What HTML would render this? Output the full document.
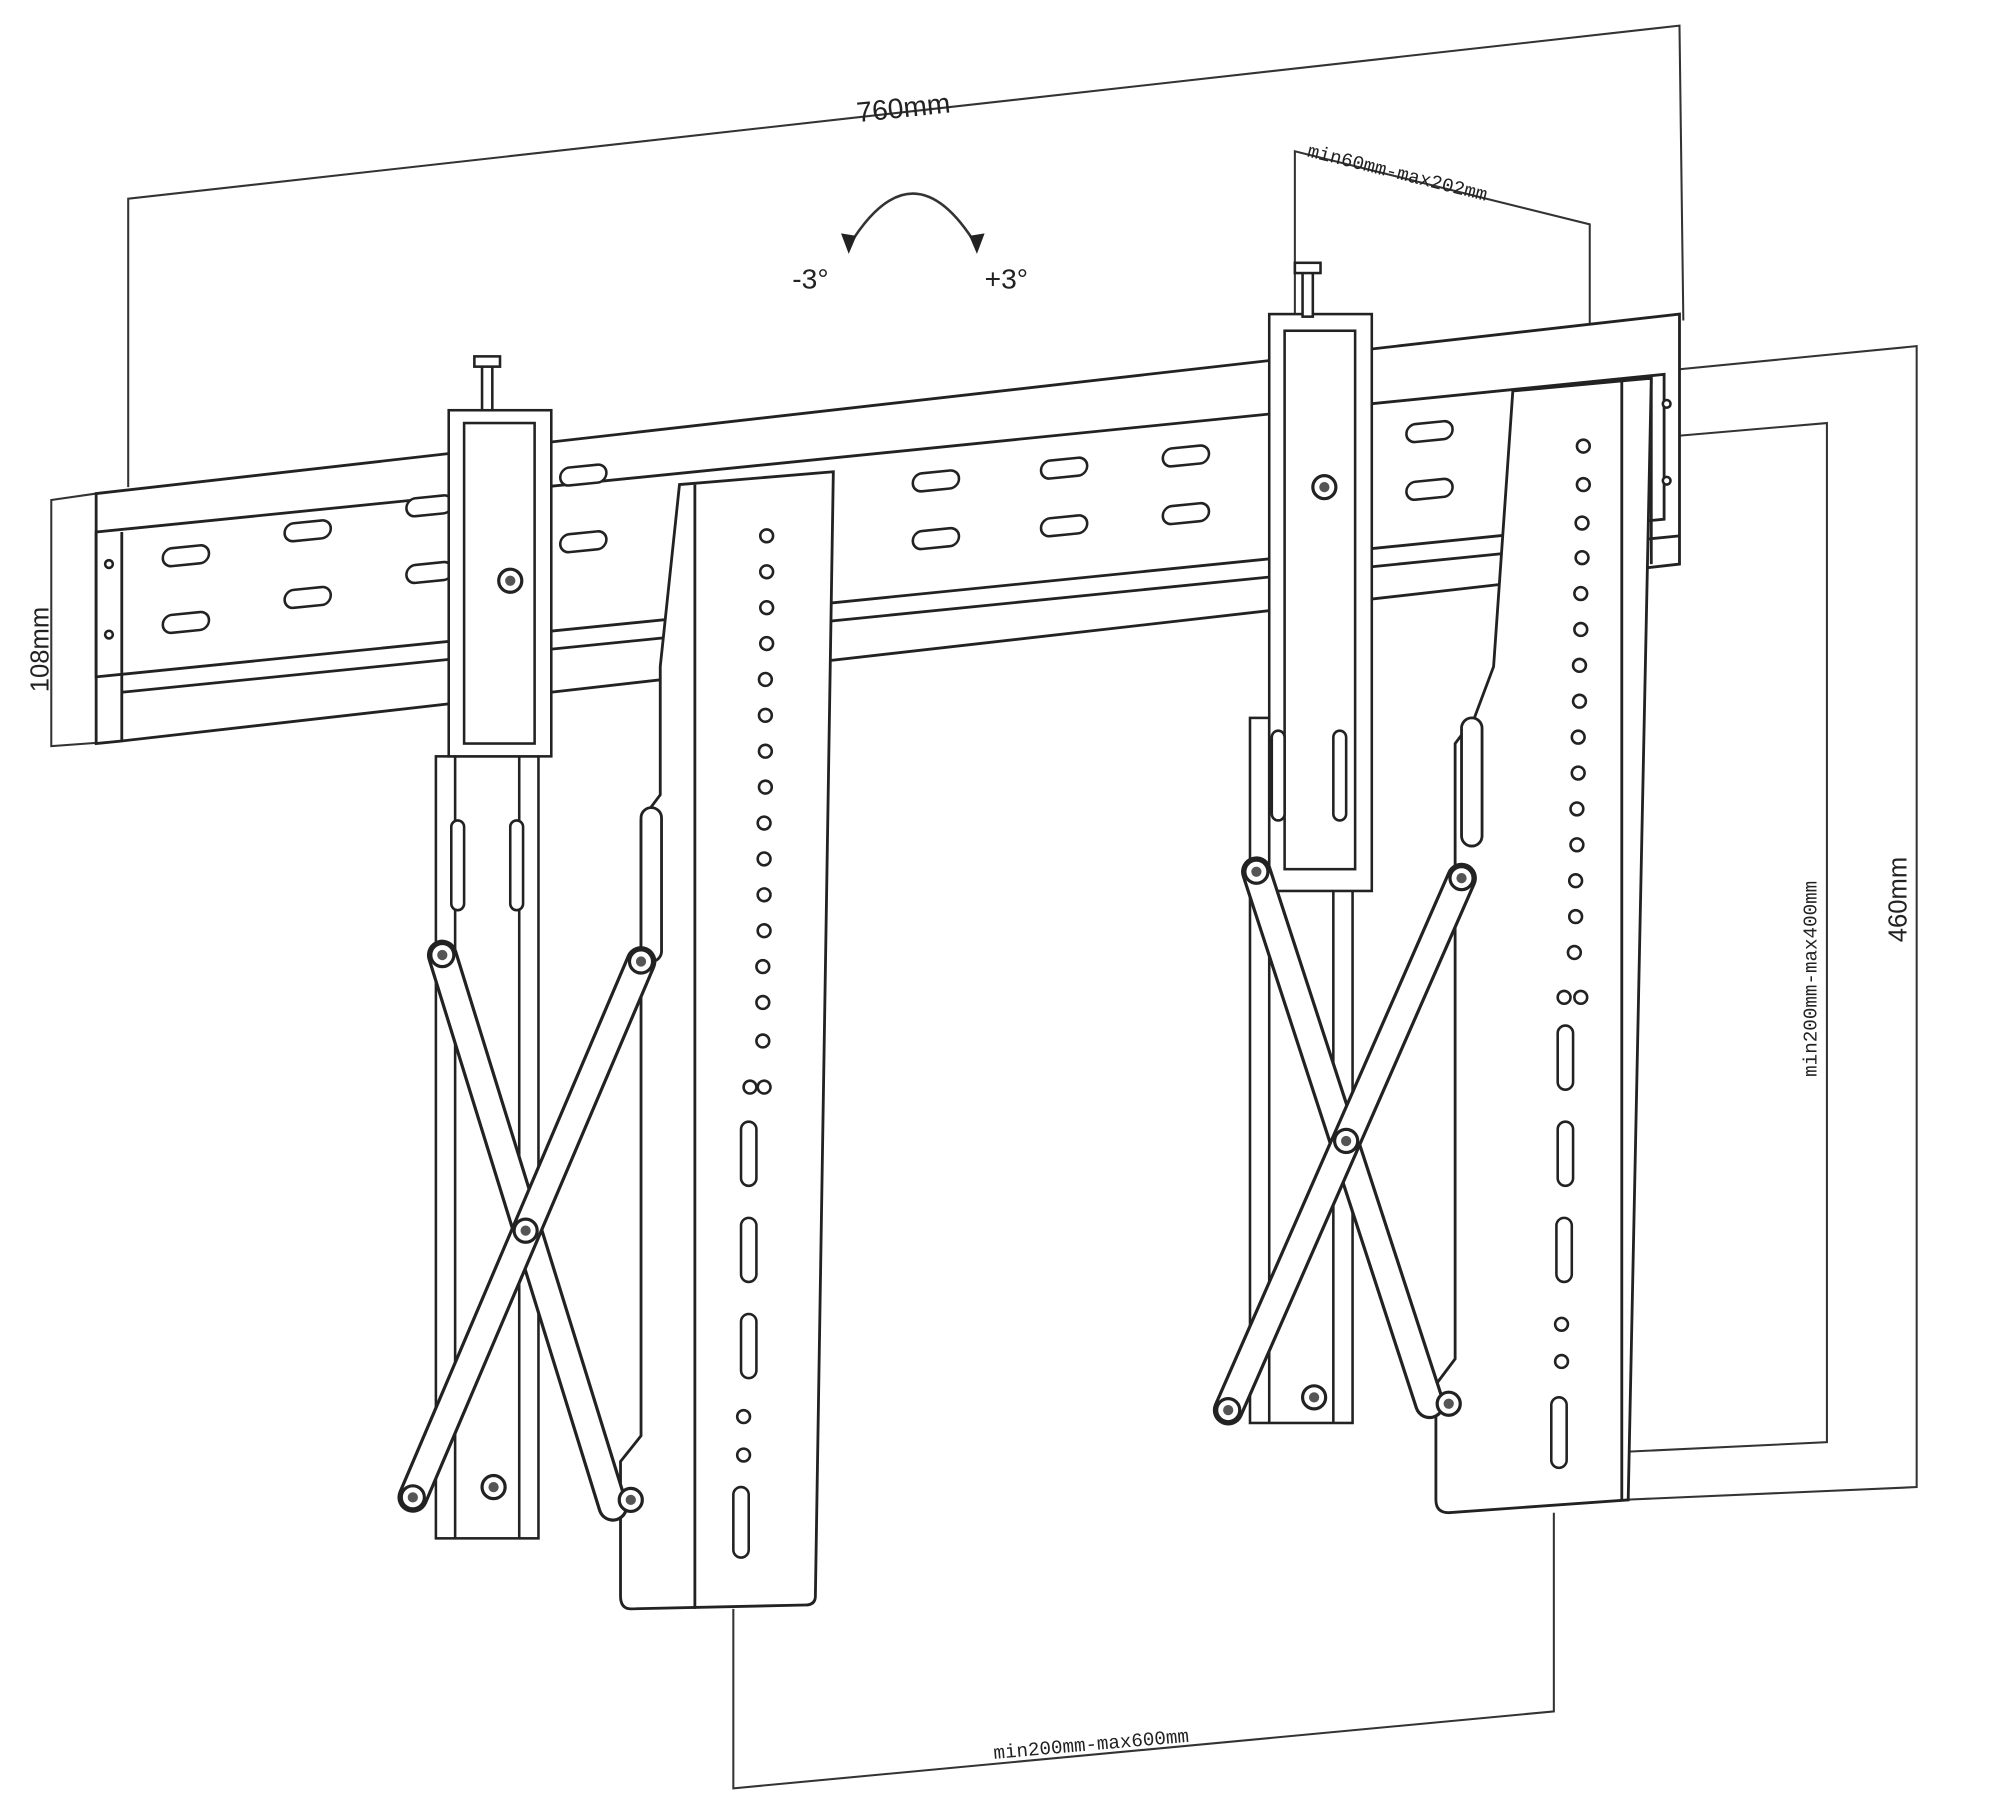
<!DOCTYPE html>
<html><head><meta charset="utf-8"><style>
html,body{margin:0;padding:0;background:#fff;}
svg{display:block;}
text{font-family:"Liberation Sans",sans-serif;fill:#222;}
.m{font-family:"Liberation Mono",monospace;}
</style></head><body>
<svg width="2000" height="1805" viewBox="0 0 1560 1408" preserveAspectRatio="none" xmlns="http://www.w3.org/2000/svg">
<defs>
<g id="slot"><rect x="-18" y="-7" width="36" height="14" rx="7" fill="#fff" stroke="#222" stroke-width="2"/></g>
<g id="hole"><circle r="5" fill="#fff" stroke="#222" stroke-width="2"/></g>
<g id="bolt"><circle r="9" fill="#fff" stroke="#222" stroke-width="2.5"/><circle r="4" fill="#555"/></g>
</defs>
<g fill="none" stroke="#333" stroke-width="1.6">
<!-- 760mm dimension -->
<polyline points="100,380 100,155 1310,20 1313,250"/>
<!-- min60-max202 -->
<polyline points="1010,250 1010,118 1240,175 1240,295"/>
<!-- 108mm -->
<polyline points="75,385 40,390 40,582 95,578"/>
<!-- 460mm -->
<polyline points="1290,290 1495,270 1495,1160 1265,1170"/>
<!-- min200-max400 -->
<polyline points="1250,345 1425,330 1425,1125 1215,1135"/>
<!-- min200-max600 -->
<polyline points="572,1255 572,1395 1212,1335 1212,1180"/>
<!-- tilt arc -->
<path d="M662,192 Q712,110 762,192" stroke-width="2"/>
</g>
<polygon points="656,182 662,198 668,184" fill="#222"/>
<polygon points="756,184 762,198 768,182" fill="#222"/>
<text x="618" y="225" font-size="22">-3°</text>
<text x="768" y="225" font-size="22">+3°</text>
<text x="668" y="92" font-size="22" transform="rotate(-6 700 85)">760mm</text>
<text class="m" x="1020" y="122" font-size="15" transform="rotate(14 1020 118)">min60mm-max202mm</text>
<text x="0" y="0" font-size="20" transform="translate(38,540) rotate(-90)">108mm</text>
<text x="0" y="0" font-size="20" transform="translate(1487,735) rotate(-90)">460mm</text>
<text class="m" x="0" y="0" font-size="15" transform="translate(1417,840) rotate(-90)">min200mm-max400mm</text>
<text class="m" x="775" y="1372" font-size="15" transform="rotate(-5 775 1368)">min200mm-max600mm</text>

<!-- Rail -->
<g stroke="#222" stroke-width="2.2" fill="#fff">
<polygon points="75,385 1310,245 1310,440 95,578 75,580"/>
<polygon points="75,415 1298,292 1298,405 75,528"/>
<line x1="95" y1="540" x2="1310" y2="418"/>
<line x1="95" y1="415" x2="95" y2="578"/>
<line x1="1288" y1="295" x2="1288" y2="440"/>
</g>
<g transform="skewY(-5.7)">
<g transform="translate(0,0)">
<use href="#slot" x="145" y="448"/><use href="#slot" x="240" y="438"/><use href="#slot" x="335" y="428"/><use href="#slot" x="455" y="416"/>
<use href="#slot" x="145" y="500"/><use href="#slot" x="240" y="490"/><use href="#slot" x="335" y="480"/><use href="#slot" x="455" y="468"/>
<use href="#slot" x="730" y="448"/><use href="#slot" x="830" y="448"/><use href="#slot" x="925" y="448"/><use href="#slot" x="1115" y="448"/>
<use href="#slot" x="730" y="493"/><use href="#slot" x="830" y="493"/><use href="#slot" x="925" y="493"/><use href="#slot" x="1115" y="493"/>
</g>
</g>
<g fill="#fff" stroke="#222" stroke-width="2">
<circle cx="85" cy="440" r="3"/><circle cx="85" cy="495" r="3"/><circle cx="1300" cy="315" r="3"/><circle cx="1300" cy="375" r="3"/>
</g>

<!-- Left slider bracket -->
<g stroke="#222" stroke-width="2" fill="#fff">
<rect x="340" y="590" width="80" height="610"/>
<line x1="355" y1="590" x2="355" y2="1200"/><line x1="405" y1="590" x2="405" y2="1200"/>
<rect x="350" y="320" width="80" height="270"/>
<rect x="362" y="330" width="55" height="250"/>
<rect x="376" y="285" width="8" height="35"/><rect x="370" y="278" width="20" height="8"/>
<rect x="352" y="640" width="10" height="70" rx="5"/><rect x="398" y="640" width="10" height="70" rx="5"/>
</g>
<!-- Right slider bracket -->
<g stroke="#222" stroke-width="2" fill="#fff">
<rect x="975" y="560" width="80" height="550"/>
<line x1="990" y1="560" x2="990" y2="1110"/><line x1="1040" y1="560" x2="1040" y2="1110"/>
<rect x="990" y="245" width="80" height="450"/>
<rect x="1002" y="258" width="55" height="420"/>
<rect x="1016" y="212" width="8" height="35"/><rect x="1010" y="205" width="20" height="8"/>
<rect x="992" y="570" width="10" height="70" rx="5"/><rect x="1040" y="570" width="10" height="70" rx="5"/>
</g>

<!-- Left plate -->
<g stroke="#222" stroke-width="2.2" fill="#fff">
<path d="M530,378 L650,368 L636,1245 Q636,1252 628,1252 L492,1255 Q484,1255 484,1245 L484,1140 L500,1120 L500,640 L515,620 L515,520 Z"/>
<line x1="542" y1="378" x2="542" y2="1255"/>
<rect x="500" y="630" width="16" height="120" rx="8"/>
</g>
<!-- Right plate -->
<g stroke="#222" stroke-width="2.2" fill="#fff">
<path d="M1180,305 L1288,295 L1270,1170 L1130,1180 Q1120,1180 1120,1170 L1120,1080 L1135,1060 L1135,580 L1150,560 L1165,520 Z"/>
<line x1="1265" y1="298" x2="1265" y2="1170"/>
<rect x="1140" y="560" width="16" height="100" rx="8"/>
</g>
<!-- holes left plate -->
<g>
<use href="#hole" x="598" y="418"/><use href="#hole" x="598" y="446"/><use href="#hole" x="598" y="474"/><use href="#hole" x="598" y="502"/>
<use href="#hole" x="597" y="530"/><use href="#hole" x="597" y="558"/><use href="#hole" x="597" y="586"/><use href="#hole" x="597" y="614"/>
<use href="#hole" x="596" y="642"/><use href="#hole" x="596" y="670"/><use href="#hole" x="596" y="698"/><use href="#hole" x="596" y="726"/>
<use href="#hole" x="595" y="754"/><use href="#hole" x="595" y="782"/><use href="#hole" x="595" y="812"/><use href="#hole" x="585" y="848"/><use href="#hole" x="596" y="848"/>
<use href="#hole" x="580" y="1105"/><use href="#hole" x="580" y="1135"/>
</g>
<g fill="#fff" stroke="#222" stroke-width="2">
<rect x="578" y="875" width="12" height="50" rx="6"/><rect x="578" y="950" width="12" height="50" rx="6"/><rect x="578" y="1025" width="12" height="50" rx="6"/><rect x="572" y="1160" width="12" height="55" rx="6"/>
</g>
<!-- holes right plate -->
<g>
<use href="#hole" x="1235" y="348"/><use href="#hole" x="1235" y="378"/><use href="#hole" x="1234" y="408"/><use href="#hole" x="1234" y="435"/>
<use href="#hole" x="1233" y="463"/><use href="#hole" x="1233" y="491"/><use href="#hole" x="1232" y="519"/><use href="#hole" x="1232" y="547"/>
<use href="#hole" x="1231" y="575"/><use href="#hole" x="1231" y="603"/><use href="#hole" x="1230" y="631"/><use href="#hole" x="1230" y="659"/>
<use href="#hole" x="1229" y="687"/><use href="#hole" x="1229" y="715"/><use href="#hole" x="1228" y="743"/><use href="#hole" x="1220" y="778"/><use href="#hole" x="1233" y="778"/>
<use href="#hole" x="1218" y="1033"/><use href="#hole" x="1218" y="1062"/>
</g>
<g fill="#fff" stroke="#222" stroke-width="2">
<rect x="1215" y="800" width="12" height="50" rx="6"/><rect x="1215" y="875" width="12" height="50" rx="6"/><rect x="1214" y="950" width="12" height="50" rx="6"/><rect x="1210" y="1090" width="12" height="55" rx="6"/>
</g>

<!-- Left scissors -->
<g stroke-linecap="round">
<line x1="345" y1="745" x2="478" y2="1175" stroke="#222" stroke-width="24"/>
<line x1="345" y1="745" x2="478" y2="1175" stroke="#fff" stroke-width="19"/>
<line x1="322" y1="1168" x2="500" y2="750" stroke="#222" stroke-width="24"/>
<line x1="322" y1="1168" x2="500" y2="750" stroke="#fff" stroke-width="19"/>
</g>
<use href="#bolt" x="345" y="745"/><use href="#bolt" x="322" y="1168"/><use href="#bolt" x="410" y="960"/><use href="#bolt" x="500" y="750"/><use href="#bolt" x="492" y="1170"/><use href="#bolt" x="385" y="1160"/>
<!-- Right scissors -->
<g stroke-linecap="round">
<line x1="980" y1="680" x2="1115" y2="1095" stroke="#222" stroke-width="24"/>
<line x1="980" y1="680" x2="1115" y2="1095" stroke="#fff" stroke-width="19"/>
<line x1="958" y1="1100" x2="1140" y2="685" stroke="#222" stroke-width="24"/>
<line x1="958" y1="1100" x2="1140" y2="685" stroke="#fff" stroke-width="19"/>
</g>
<use href="#bolt" x="980" y="680"/><use href="#bolt" x="958" y="1100"/><use href="#bolt" x="1050" y="890"/><use href="#bolt" x="1140" y="685"/><use href="#bolt" x="1130" y="1095"/><use href="#bolt" x="1025" y="1090"/>
<use href="#bolt" x="398" y="453"/><use href="#bolt" x="1033" y="380"/>
</svg>
</body></html>
